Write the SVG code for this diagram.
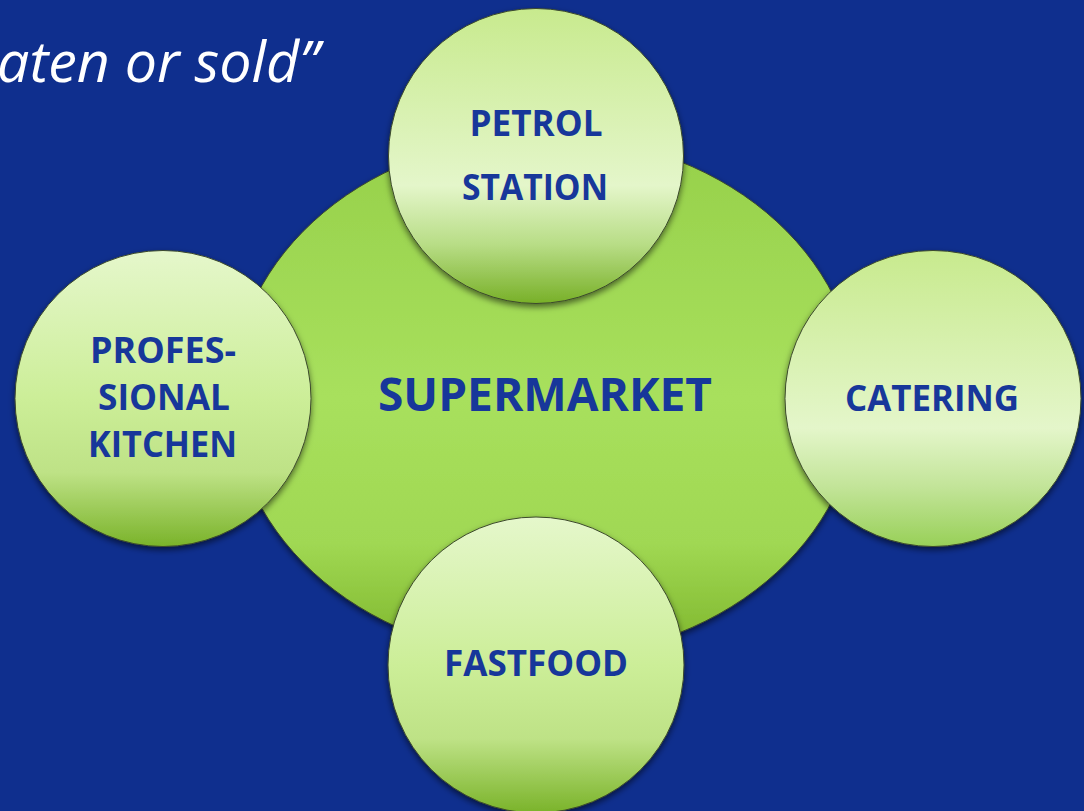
<svg xmlns="http://www.w3.org/2000/svg" width="1084" height="811" viewBox="0 0 1084 811">
  <defs>
    <linearGradient id="gBig" x1="0" y1="0" x2="0" y2="1">
      <stop offset="0" stop-color="#96D04A"/>
      <stop offset="0.5" stop-color="#A8E05D"/>
      <stop offset="0.78" stop-color="#A0D853"/>
      <stop offset="1" stop-color="#7CB42A"/>
    </linearGradient>
    <linearGradient id="gA" x1="0" y1="0" x2="0" y2="1">
      <stop offset="0" stop-color="#C8EA8E"/>
      <stop offset="0.6" stop-color="#E4F6CA"/>
      <stop offset="0.8" stop-color="#B8DD86"/>
      <stop offset="1" stop-color="#78B028"/>
    </linearGradient>
    <linearGradient id="gC" x1="0" y1="0" x2="0" y2="1">
      <stop offset="0" stop-color="#C8EA8E"/>
      <stop offset="0.6" stop-color="#E4F6CA"/>
      <stop offset="0.8" stop-color="#C2E498"/>
      <stop offset="1" stop-color="#98D058"/>
    </linearGradient>
    <linearGradient id="gB" x1="0" y1="0" x2="0" y2="1">
      <stop offset="0" stop-color="#E5F7CB"/>
      <stop offset="0.5" stop-color="#CCEE98"/>
      <stop offset="0.75" stop-color="#BEE286"/>
      <stop offset="1" stop-color="#7AB32A"/>
    </linearGradient>
    <filter id="sh" x="-20%" y="-20%" width="140%" height="140%">
      <feDropShadow dx="0" dy="3" stdDeviation="3" flood-color="#000" flood-opacity="0.55"/>
    </filter>
  </defs>
  <style>
    .shape { stroke: #3c4a2c; stroke-width: 1; filter: url(#sh); }
    .lbl { font-family: "Open Sans", "Liberation Sans", sans-serif; font-weight: bold; fill: #17379A; text-anchor: middle; }
    .quote { font-family: "Open Sans", "Liberation Sans", sans-serif; font-style: italic; fill: #FFFFFF; }
  </style>
  <rect x="0" y="0" width="1084" height="811" fill="#0F2F8E"/>
  <text class="quote" x="-3" y="82" font-size="56" textLength="322" lengthAdjust="spacingAndGlyphs">aten or sold”</text>

  <g id="connectors"></g>

  <g id="supermarket">
    <ellipse class="shape" cx="545" cy="397" rx="313" ry="261" fill="url(#gBig)"/>
    <text class="lbl" x="545" y="411" font-size="46" textLength="334" lengthAdjust="spacingAndGlyphs">SUPERMARKET</text>
  </g>

  <g id="petrol-station">
    <circle class="shape" cx="536" cy="156" r="147.5" fill="url(#gA)"/>
    <text class="lbl" x="536" y="136" font-size="36" textLength="133" lengthAdjust="spacingAndGlyphs">PETROL</text>
    <text class="lbl" x="535" y="200" font-size="36" textLength="146" lengthAdjust="spacingAndGlyphs">STATION</text>
  </g>

  <g id="professional-kitchen">
    <circle class="shape" cx="163" cy="398.5" r="148" fill="url(#gB)"/>
    <text class="lbl" x="163" y="363" font-size="36" textLength="146" lengthAdjust="spacingAndGlyphs">PROFES-</text>
    <text class="lbl" x="164" y="410" font-size="36" textLength="132" lengthAdjust="spacingAndGlyphs">SIONAL</text>
    <text class="lbl" x="162.5" y="457" font-size="36" textLength="149" lengthAdjust="spacingAndGlyphs">KITCHEN</text>
  </g>

  <g id="catering">
    <circle class="shape" cx="933" cy="398.5" r="148" fill="url(#gC)"/>
    <text class="lbl" x="932" y="411" font-size="36" textLength="174" lengthAdjust="spacingAndGlyphs">CATERING</text>
  </g>

  <g id="fastfood">
    <circle class="shape" cx="536" cy="665" r="148" fill="url(#gB)"/>
    <text class="lbl" x="536" y="676" font-size="36" textLength="184" lengthAdjust="spacingAndGlyphs">FASTFOOD</text>
  </g>
</svg>
